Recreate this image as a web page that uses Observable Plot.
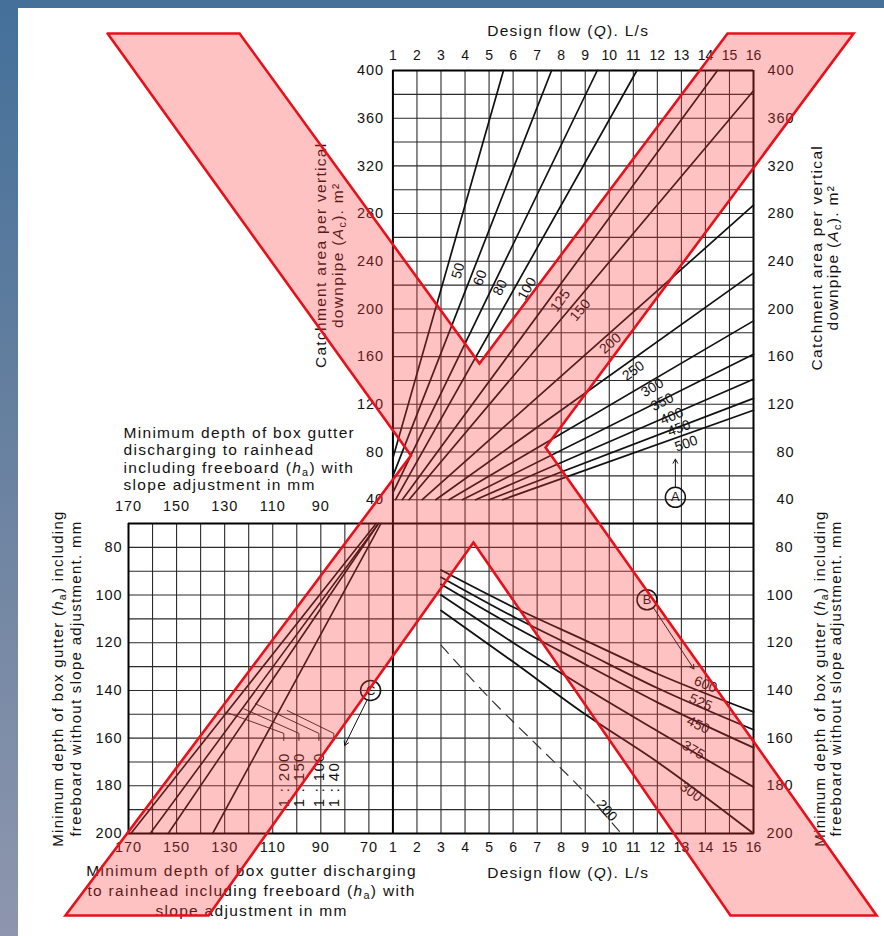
<!DOCTYPE html>
<html><head><meta charset="utf-8">
<script src="https://cdn.jsdelivr.net/npm/d3@7"></script>
<script src="https://cdn.jsdelivr.net/npm/@observablehq/plot@0.6"></script>
<style>
html,body{margin:0;padding:0;width:884px;height:936px;overflow:hidden;
 background:linear-gradient(180deg,#44709a 0%,#66809f 45%,#8e96ae 100%);}
#panel{position:absolute;left:18px;top:8px;width:866px;height:928px;background:#fff;}
#chart{position:absolute;left:0;top:0;width:884px;height:936px;}
#chart svg{overflow:visible;}
</style></head><body><div id="panel"></div><div id="chart"></div>
<script>
// ---------- tick / grid values ----------
const flowTicks = [1,2,3,4,5,6,7,8,9,10,11,12,13,14,15,16];          // Q, L/s
const areaTicks = [40,80,120,160,200,240,280,320,360,400];           // Ac, m2
const areaGrid  = [40,60,80,100,120,140,160,180,200,220,240,260,280,300,320,340,360,380];
const depthTicks = [80,100,120,140,160,180,200];                    // h, mm
const depthGrid  = [80,90,100,110,120,130,140,150,160,170,180,190];
const haTopTicks = [170,150,130,110,90];
const haBottomTicks = [170,150,130,110,90,70];
const haGrid = [160,150,140,130,120,110,100,90,80,70];

// ---------- quadrant A: catchment area vs design flow, per rainfall intensity ----------
const fanIntensity = [50,60,80,100,125,150,200,250,300,350,400,450,500];
const fanStart = [[1,75],[1,60],[1,46],[1.11,40],[1.39,40],[1.67,40],[2.22,40],[2.78,40],[3.33,40],[3.89,40],[4.44,40],[5.0,40],[5.56,40]];
const fanEnd   = [[5.6,400],[7.6,400],[9.5,400],[11.15,400],[14.5,400],[16,383],[16,287],[16,230],[16,190],[16,162],[16,141],[16,125],[16,115]];
const fanLabelAt = [[3.71,232],[4.63,226],[5.46,218],[6.58,217],[7.96,207],[8.79,199],[10.04,171],[11.0,148],[11.79,134],[12.2,122],[12.6,110],[12.9,100],[13.2,87]];

// ---------- quadrant B: gutter depth vs design flow, per gutter width ----------
const gutterQ = [3,6,9,12,16];
const depth600 = [89.5,105,119,133,149];
const depth525 = [92.5,109,124,139,156.5];
const depth450 = [95.5,113,129,145,164];
const depth375 = [100,120,139,157,180.5];
const depth300 = [106.5,128,150,170,200];
const gutterWidths = [600,525,450,375,300];
const gutterLabelAt = [[14,137.5],[13.8,145],[13.7,154.5],[13.5,165],[13.4,182.5]];
const dashedQ = [3,5,7,9,10.5];
const dashed200 = [121,143,163,183,200];
const dashedLabelAt = [9.9,190.4];

// ---------- quadrant C: depth with slope adjustment ----------
const slopeRatio = ["1 : 200","1 : 150","1 : 100","1 : 40"];
const slopeTop = [[67,70],[66,70],[66,70],[65,70]];        // (ha, h)
const slopeBottom = [[169,200],[161,200],[153.5,200],[135,200]];
const leaderFrom = [[129.6,149.1],[122.0,147.7],[117.2,145.6],[104.0,148.4]];
const leaderCol = [105.4,99.1,90.8,84.6];

// ---------- markers ----------
const markerA = [12.75,42], arrowA = [[12.75,51],[12.75,74]];
const markerB = [11.57,102], arrowB = [[11.85,105.5],[13.52,131]];
const markerC = [69.3,140], arrowC = [[70.7,143.9],[80.1,163.1]];

// ---------- red X overlay (chart grid units) ----------
const overlayU = [-11.87,-6.38,3.60,13.92,19.16,6.35,20.12,14.04,3.35,-7.67,-13.62,0.75];
const overlayV = [20.55,20.55,6.71,20.55,20.55,3.19,-16.44,-16.44,-0.80,-16.44,-16.44,2.85];

// ---------- texts ----------
const titleFlow = "Design flow (Q). L/s";
const titleArea = "Catchment area per vertical\ndownpipe (Ac). m²";
const titleDepth = "Minimum depth of box gutter (ha) including\nfreeboard without slope adjustment. mm";
const titleRainTop = "Minimum depth of box gutter\ndischarging to rainhead\nincluding freeboard (ha) with\nslope adjustment in mm";
const titleRainBottom = "Minimum depth of box gutter discharging\nto rainhead including freeboard (ha) with\nslope adjustment in mm";

// ---------- unified grid coordinates ----------
const qx = q => q - 1;             // design flow -> u
const ay = a => a / 20 - 1;        // catchment area -> v
const hy = h => -(h - 70) / 10;    // depth -> v
const hax = ha => (60 - ha) / 10;  // depth with slope adj -> u

const ML = 128, MR = 131, MT = 70, MB = 103, W = 884, H = 936;
const PXU = (W - ML - MR) / 26, PXV = (H - MT - MB) / 32;
const ang = (du, dv) => Math.atan2(-dv * PXV, du * PXU) * 180 / Math.PI;

const fanPts = fanIntensity.flatMap((I, i) => [
  {k: I, u: qx(fanStart[i][0]), v: ay(fanStart[i][1])},
  {k: I, u: qx(fanEnd[i][0]), v: ay(fanEnd[i][1])}]);
const fanAngle = fanIntensity.map((I, i) => ang(qx(fanEnd[i][0]) - qx(fanStart[i][0]), ay(fanEnd[i][1]) - ay(fanStart[i][1])));

const gutterDepths = [depth600, depth525, depth450, depth375, depth300];
const gutterPts = gutterWidths.flatMap((w, i) => gutterQ.map((q, j) => ({k: w, u: qx(q), v: hy(gutterDepths[i][j])})));
const gutterAngle = gutterWidths.map((w, i) => ang(qx(16) - qx(12), hy(gutterDepths[i][4]) - hy(gutterDepths[i][3])));
const dashedPts = dashedQ.map((q, j) => ({u: qx(q), v: hy(dashed200[j])}));
const dashedAngle = ang(qx(10.5) - qx(9), hy(200) - hy(183));

const slopePts = slopeRatio.flatMap((r, i) => [
  {k: r, u: hax(slopeTop[i][0]), v: hy(slopeTop[i][1])},
  {k: r, u: hax(slopeBottom[i][0]), v: hy(slopeBottom[i][1])}]);
const leaderPts = slopeRatio.flatMap((r, i) => [
  {k: r, u: hax(leaderFrom[i][0]), v: hy(leaderFrom[i][1])},
  {k: r, u: hax(leaderCol[i]), v: hy(158)},
  {k: r, u: hax(leaderCol[i]), v: hy(161)}]);

const markers = [
  {t: "A", u: qx(markerA[0]), v: ay(markerA[1])},
  {t: "B", u: qx(markerB[0]), v: hy(markerB[1])},
  {t: "C", u: hax(markerC[0]), v: hy(markerC[1])}];
const arrows = [
  {u1: qx(arrowA[0][0]), v1: ay(arrowA[0][1]), u2: qx(arrowA[1][0]), v2: ay(arrowA[1][1])},
  {u1: qx(arrowB[0][0]), v1: hy(arrowB[0][1]), u2: qx(arrowB[1][0]), v2: hy(arrowB[1][1])},
  {u1: hax(arrowC[0][0]), v1: hy(arrowC[0][1]), u2: hax(arrowC[1][0]), v2: hy(arrowC[1][1])}];

const overlayPts = overlayU.map((u, i) => ({u, v: overlayV[i]}));
overlayPts.push(overlayPts[0]);

const F = "'Liberation Sans', Arial, Helvetica, sans-serif";
const ink = "#111";
const gridC = "#2b2b2b";
const TS = 15.5; // title size
const M = "middle";

const svg = Plot.plot({
  width: W, height: H,
  marginLeft: ML, marginRight: MR, marginTop: MT, marginBottom: MB,
  x: {domain: [-11, 15], axis: null},
  y: {domain: [-13, 19], axis: null},
  style: {background: "transparent", fontFamily: F, color: ink},
  marks: [
    // grid
    Plot.ruleX(flowTicks.slice(1, -1), {x: qx, y1: () => hy(200), y2: () => ay(400), stroke: gridC, strokeWidth: 1.1}),
    Plot.ruleX(haGrid, {x: hax, y1: () => hy(200), y2: () => hy(70), stroke: gridC, strokeWidth: 1.1}),
    Plot.ruleY(areaGrid, {y: ay, x1: () => qx(1), x2: () => qx(16), stroke: gridC, strokeWidth: 1.1}),
    Plot.ruleY(depthGrid, {y: hy, x1: () => hax(170), x2: () => qx(16), stroke: gridC, strokeWidth: 1.1}),
    // frame and dividers
    Plot.ruleX([1, 16], {x: qx, y1: () => hy(200), y2: () => ay(400), stroke: "#000", strokeWidth: 2}),
    Plot.ruleX([170], {x: hax, y1: () => hy(200), y2: () => hy(70), stroke: "#000", strokeWidth: 2}),
    Plot.ruleY([400], {y: ay, x1: () => qx(1), x2: () => qx(16), stroke: "#000", strokeWidth: 2}),
    Plot.ruleY([70, 200], {y: hy, x1: () => hax(170), x2: () => qx(16), stroke: "#000", strokeWidth: 2}),

    // curves
    Plot.line(fanPts, {x: "u", y: "v", z: "k", stroke: ink, strokeWidth: 1.7}),
    Plot.line(gutterPts, {x: "u", y: "v", z: "k", stroke: ink, strokeWidth: 1.8, curve: "monotone-x"}),
    Plot.line(dashedPts, {x: "u", y: "v", stroke: "#333", strokeWidth: 1.2, strokeDasharray: "11,8", curve: "monotone-x"}),
    Plot.line(slopePts, {x: "u", y: "v", z: "k", stroke: ink, strokeWidth: 1.6}),
    Plot.line(leaderPts, {x: "u", y: "v", z: "k", stroke: ink, strokeWidth: 0.9}),

    // curve labels
    Plot.text(fanIntensity, {x: (d, i) => qx(fanLabelAt[i][0]), y: (d, i) => ay(fanLabelAt[i][1]), text: d => String(d), rotate: (d, i) => fanAngle[i], fontSize: 14, fill: ink}),
    Plot.text(gutterWidths, {x: (d, i) => qx(gutterLabelAt[i][0]), y: (d, i) => hy(gutterLabelAt[i][1]), text: d => String(d), rotate: (d, i) => gutterAngle[i], fontSize: 14, fill: ink}),
    Plot.text(["200"], {x: () => qx(dashedLabelAt[0]), y: () => hy(dashedLabelAt[1]), text: d => d, rotate: dashedAngle, fontSize: 14, fill: ink}),
    Plot.text(slopeRatio, {x: (d, i) => hax(leaderCol[i]), y: () => hy(189), text: d => d, rotate: -90, textAnchor: "start", lineAnchor: M, fontSize: 15, fill: ink}),

    // markers
    Plot.dot(markers, {x: "u", y: "v", r: 10, stroke: ink, strokeWidth: 1.5, fill: "none"}),
    Plot.text(markers, {x: "u", y: "v", text: "t", fontSize: 13, fill: ink}),
    Plot.arrow(arrows, {x1: "u1", y1: "v1", x2: "u2", y2: "v2", stroke: ink, strokeWidth: 1, headLength: 7}),

    // tick labels
    Plot.text(flowTicks, {x: qx, frameAnchor: "top", lineAnchor: M, textAnchor: M, dy: -15, text: d => String(d), fontSize: 14}),
    Plot.text(flowTicks, {x: qx, frameAnchor: "bottom", lineAnchor: M, textAnchor: M, dy: 14, text: d => String(d), fontSize: 14}),
    Plot.text(haBottomTicks, {x: hax, frameAnchor: "bottom", lineAnchor: M, textAnchor: M, dy: 14, text: d => String(d), fontSize: 14.5}),
    Plot.text(haTopTicks, {x: hax, y: () => hy(70), dy: -17, lineAnchor: M, text: d => String(d), fontSize: 14.5}),
    Plot.text(areaTicks, {y: ay, frameAnchor: "right", lineAnchor: M, dx: 41, textAnchor: "end", text: d => String(d), fontSize: 14.5}),
    Plot.text(depthTicks, {y: hy, frameAnchor: "right", lineAnchor: M, dx: 40, textAnchor: "end", text: d => String(d), fontSize: 14.5}),
    Plot.text(areaTicks, {y: ay, x: () => qx(1), lineAnchor: M, dx: -9, textAnchor: "end", text: d => String(d), fontSize: 14.5}),
    Plot.text(depthTicks, {y: hy, frameAnchor: "left", lineAnchor: M, dx: -6, textAnchor: "end", text: d => String(d), fontSize: 14.5}),

    // titles
    Plot.text([titleFlow], {x: () => qx((flowTicks[0] + flowTicks[15]) / 2), frameAnchor: "top", lineAnchor: M, textAnchor: M, dx: -5, dy: -39, text: d => d, fontSize: TS}),
    Plot.text([titleFlow], {x: () => qx((flowTicks[0] + flowTicks[15]) / 2), frameAnchor: "bottom", lineAnchor: M, textAnchor: M, dx: -5, dy: 40, text: d => d, fontSize: TS}),
    Plot.text([titleArea], {y: () => ay(243), frameAnchor: "right", textAnchor: M, lineAnchor: M, dx: 71, rotate: -90, lineHeight: 1.08, text: d => d, fontSize: TS}),
    Plot.text([titleArea], {y: () => ay(245), x: () => qx(1), textAnchor: M, lineAnchor: M, dx: -64, rotate: -90, lineHeight: 1.08, text: d => d, fontSize: TS}),
    Plot.text([titleDepth], {y: () => hy(135), frameAnchor: "right", textAnchor: M, lineAnchor: M, dx: 74, rotate: -90, lineHeight: 1.08, text: d => d, fontSize: 15}),
    Plot.text([titleDepth], {y: () => hy(135), frameAnchor: "left", textAnchor: M, lineAnchor: M, dx: -62, rotate: -90, lineHeight: 1.15, text: d => d, fontSize: 15}),
    Plot.text([titleRainTop], {x: () => hax(170), y: () => hy(70), dx: -5, dy: -65, textAnchor: "start", lineAnchor: M, lineHeight: 1.13, text: d => d, fontSize: TS}),
    Plot.text([titleRainBottom], {x: () => hax(118.8), frameAnchor: "bottom", textAnchor: M, lineAnchor: M, dy: 56, lineHeight: 1.3, text: d => d, fontSize: TS}),

    // red X overlay
    Plot.line(overlayPts, {x: "u", y: "v", fill: "#ff3535", fillOpacity: 0.3, stroke: "#e8101a", strokeWidth: 2.6, strokeLinejoin: "miter", strokeMiterlimit: 10})
  ]
});

// letter spacing for the wide scanned lettering
svg.querySelectorAll("[font-size]").forEach(n => {
  const fs = parseFloat(n.getAttribute("font-size"));
  if (fs >= 15) n.setAttribute("letter-spacing", "1.3px");
  else if (fs >= 14.5) n.setAttribute("letter-spacing", "0.9px");
});

// italic symbols and subscripts
const NS = "http://www.w3.org/2000/svg";
svg.querySelectorAll("text, tspan").forEach(n => {
  if (n.children.length) return;
  const s = n.textContent;
  if (!/\((Ac|ha|Q)\)/.test(s)) return;
  n.textContent = "";
  for (const p of s.split(/(\((?:Ac|ha|Q)\))/)) {
    if (!p) continue;
    const m = p.match(/^\((Ac|ha|Q)\)$/);
    if (!m) { n.appendChild(document.createTextNode(p)); continue; }
    n.appendChild(document.createTextNode("("));
    const it = document.createElementNS(NS, "tspan");
    it.setAttribute("font-style", "italic");
    it.textContent = m[1][0];
    n.appendChild(it);
    if (m[1].length > 1) {
      const sub = document.createElementNS(NS, "tspan");
      sub.setAttribute("baseline-shift", "-2.5");
      sub.setAttribute("font-size", "70%");
      sub.textContent = m[1][1];
      n.appendChild(sub);
    }
    n.appendChild(document.createTextNode(")"));
  }
});

document.getElementById("chart").appendChild(svg);
</script>
</body></html>
